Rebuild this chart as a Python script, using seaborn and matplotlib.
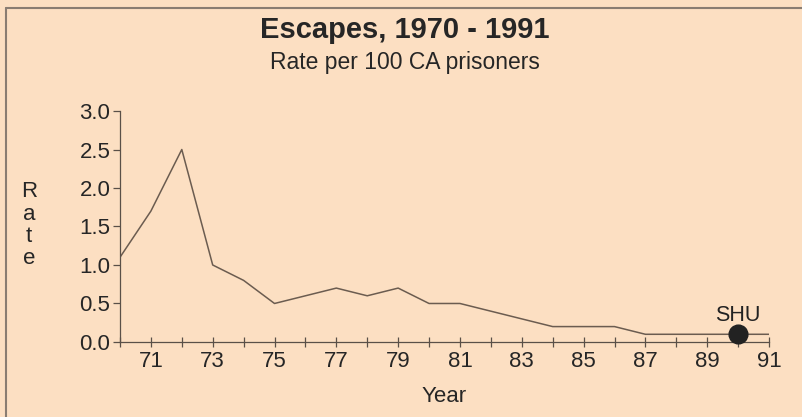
import matplotlib
matplotlib.use("Agg")
import matplotlib.pyplot as plt
from matplotlib.ticker import MultipleLocator, FuncFormatter
import seaborn as sns
import pandas as pd

# ===== data =====
years = [1970, 1971, 1972, 1973, 1974, 1975, 1976, 1977, 1978, 1979, 1980,
         1981, 1982, 1983, 1984, 1985, 1986, 1987, 1988, 1989, 1990, 1991]
rates = [1.1, 1.7, 2.5, 1.0, 0.8, 0.5, 0.6, 0.7, 0.6, 0.7, 0.5,
         0.5, 0.4, 0.3, 0.2, 0.2, 0.2, 0.1, 0.1, 0.1, 0.1, 0.1]
shu_year = [1990]
shu_rate = [0.1]

df = pd.DataFrame({"year": years, "rate": rates})
shu = pd.DataFrame({"year": shu_year, "rate": shu_rate})

BG = "#fcdfc2"
INK = "#5a5048"

sns.set_style("ticks")
plt.rcParams["font.family"] = ["Liberation Sans", "DejaVu Sans"]

fig = plt.figure(figsize=(8.02, 4.17), dpi=100, facecolor=BG)
ax = fig.add_axes([0.1496, 0.1799, 0.8093, 0.5539])
ax.set_facecolor(BG)

sns.lineplot(data=df, x="year", y="rate", ax=ax, color="#6b5c50", linewidth=1.1)
sns.scatterplot(data=shu, x="year", y="rate", ax=ax, color="#222222", s=180,
                edgecolor="#222222", zorder=5, clip_on=False)
ax.annotate("SHU", (shu_year[0], shu_rate[0]), xytext=(0, 6), textcoords="offset points",
            ha="center", va="bottom", fontsize=15.5, color="#222222")

ax.set_xlim(1970, 1991)
ax.set_ylim(0, 3.0)
ax.xaxis.set_major_locator(MultipleLocator(2, offset=1))
ax.xaxis.set_minor_locator(MultipleLocator(1))
ax.xaxis.set_major_formatter(FuncFormatter(lambda v, p: f"{int(v) % 100:02d}"))
ax.yaxis.set_major_locator(MultipleLocator(0.5))
ax.yaxis.set_major_formatter(FuncFormatter(lambda v, p: f"{v:.1f}"))
ax.tick_params(axis="x", which="both", direction="inout", length=7, width=0.9,
               color=INK, labelsize=16, pad=3)
ax.tick_params(axis="y", direction="out", length=5, width=0.9, color=INK,
               labelsize=16, pad=2)
for s in ["top", "right"]:
    ax.spines[s].set_visible(False)
for s in ["left", "bottom"]:
    ax.spines[s].set_color(INK)
    ax.spines[s].set_linewidth(0.9)
ax.set_xlabel("Year", fontsize=16, labelpad=10)
ax.set_ylabel("")

fig.text(0.036, 0.46, "R\na\nt\ne", fontsize=16, ha="center", va="center",
         linespacing=1.08)
fig.text(0.505, 0.928, "Escapes, 1970 - 1991", fontsize=21, fontweight="bold",
         ha="center", va="center")
fig.text(0.505, 0.851, "Rate per 100 CA prisoners", fontsize=16.5,
         ha="center", va="center")

# frame of the scanned page
fig.add_artist(plt.Line2D([0.008, 1.0], [0.982, 0.982], color="#8a7d72", lw=1.5,
                          transform=fig.transFigure))
fig.add_artist(plt.Line2D([0.008, 0.008], [0.0, 0.982], color="#8a7d72", lw=1.5,
                          transform=fig.transFigure))

fig.savefig("out.png", dpi=100, facecolor=BG)
